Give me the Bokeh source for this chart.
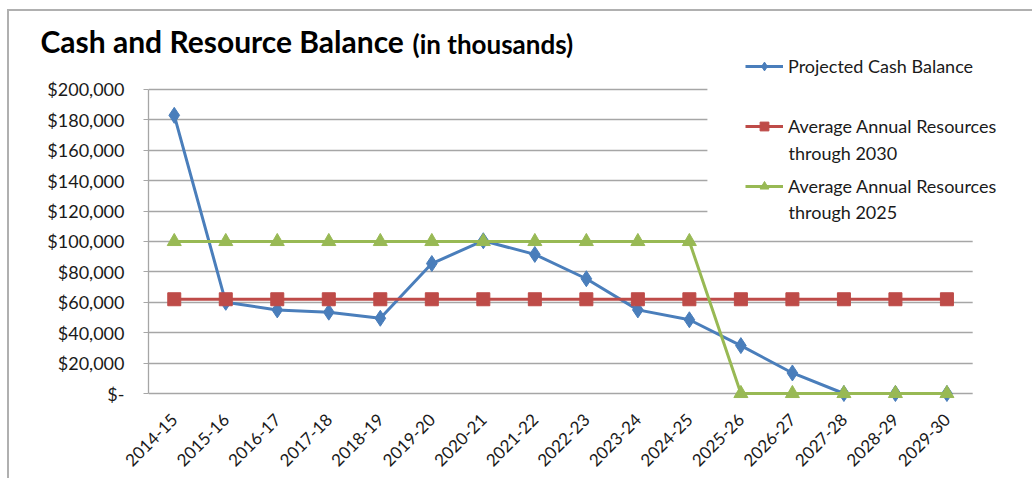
import math
from bokeh.plotting import figure
from bokeh.models import (Range1d, FixedTicker, NumeralTickFormatter,
                          Legend, LegendItem, Label, BoxAnnotation)
from bokeh.embed import file_html
from bokeh.resources import INLINE

years = ["2014-15", "2015-16", "2016-17", "2017-18", "2018-19", "2019-20", "2020-21",
         "2021-22", "2022-23", "2023-24", "2024-25", "2025-26", "2026-27", "2027-28",
         "2028-29", "2029-30"]
cash_balance = [183000, 60000, 55000, 53500, 49500, 85500, 100500, 91500, 75500, 55000,
                48500, 31500, 13500, 0, 0, 0]
avg_2030 = [62000] * 16
avg_2025 = [100000] * 11 + [0] * 5
y_ticks = [0, 20000, 40000, 60000, 80000, 100000, 120000, 140000, 160000, 180000, 200000]
x_idx = list(range(len(years)))

FONT = "Lato"
BLUE = "#4A7EBB"
RED = "#BE4B48"
GREEN = "#98B954"
GRID = "#A6A6A6"
TXT = "#1a1a1a"

p = figure(x_range=Range1d(-0.5, 16.70), y_range=Range1d(-5921, 242105),
           width=1025, height=469, output_backend="svg", toolbar_location=None,
           min_border_left=139, min_border_right=0, min_border_top=14, min_border_bottom=78)
p.margin = (9, 0, 0, 7)
p.styles = {"border-top": "2px solid #B0B0B0", "border-left": "2px solid #B0B0B0"}
p.outline_line_color = None
p.background_fill_color = "white"

p.title.text = "Cash and Resource Balance"
p.title.align = "left"
p.title.offset = -108
p.title.standoff = -67
p.title.text_font = FONT
p.title.text_font_size = "30px"
p.title.text_font_style = "bold"
p.title.text_color = "black"

p.xgrid.grid_line_color = None
p.ygrid.grid_line_color = GRID
p.ygrid.grid_line_width = 1.3
p.ygrid.ticker = FixedTicker(ticks=y_ticks)

p.yaxis.ticker = FixedTicker(ticks=y_ticks)
p.yaxis.bounds = (0, 200000)
p.yaxis.formatter = NumeralTickFormatter(format="$0,0")
p.yaxis.major_label_overrides = {0: "$-"}
p.yaxis.axis_line_color = GRID
p.yaxis.axis_line_width = 1.3
p.yaxis.major_tick_line_color = GRID
p.yaxis.major_tick_out = 5
p.yaxis.major_tick_in = 0
p.yaxis.minor_tick_line_color = None
p.yaxis.major_label_text_font = FONT
p.yaxis.major_label_text_font_size = "18px"
p.yaxis.major_label_text_color = TXT
p.yaxis.major_label_standoff = 19

p.xaxis.ticker = FixedTicker(ticks=x_idx)
p.xaxis.major_label_overrides = {i: y for i, y in zip(x_idx, years)}
p.xaxis.axis_line_color = None
p.xaxis.major_tick_line_color = None
p.xaxis.minor_tick_line_color = None
p.xaxis.major_label_orientation = math.pi / 4
p.xaxis.major_label_text_font = FONT
p.xaxis.major_label_text_font_size = "17px"
p.xaxis.major_label_text_color = TXT
p.xaxis.major_label_standoff = 8

# white covers: gridlines stop at the last category edge and behind the legend
p.add_layout(BoxAnnotation(left=15.5, fill_color="white", fill_alpha=1.0,
                           line_color=None, level="underlay"))
p.add_layout(BoxAnnotation(left=10.35, bottom=108000, fill_color="white", fill_alpha=1.0,
                           line_color=None, level="underlay"))

l1 = p.line(x_idx, cash_balance, line_color=BLUE, line_width=3)
m1 = p.scatter(x_idx, cash_balance, marker="diamond", size=16, fill_color=BLUE, line_color=BLUE)
l2 = p.line(x_idx, avg_2030, line_color=RED, line_width=3)
m2 = p.scatter(x_idx, avg_2030, marker="square", size=13, fill_color=RED, line_color=RED)
l3 = p.line(x_idx, avg_2025, line_color=GREEN, line_width=3)
m3 = p.scatter(x_idx, avg_2025, marker="triangle", size=14, fill_color=GREEN, line_color=GREEN)

leg = Legend(items=[LegendItem(label="Projected Cash Balance", renderers=[l1, m1]),
                    LegendItem(label="Average Annual Resources", renderers=[l2, m2]),
                    LegendItem(label="Average Annual Resources", renderers=[l3, m3])],
             location=(597, 205), label_text_font=FONT, label_text_font_size="18px",
             label_text_color=TXT, glyph_width=38, glyph_height=22, label_height=22,
             label_standoff=5, padding=0, margin=0, spacing=38,
             border_line_color=None, background_fill_alpha=0.0)
p.add_layout(leg)

for txt, yy in [("through 2030", 250), ("through 2025", 191)]:
    p.add_layout(Label(x=640, y=yy, x_units="screen", y_units="screen", text=txt,
                       text_font=FONT, text_font_size="18px", text_color=TXT,
                       text_baseline="middle"))

p.add_layout(Label(x=264, y=359, x_units="screen", y_units="screen", text="(in thousands)",
                   text_font=FONT, text_font_style="bold", text_font_size="26px",
                   text_color="black", text_baseline="middle"))

open("out.html", "w").write(file_html(p, INLINE))
